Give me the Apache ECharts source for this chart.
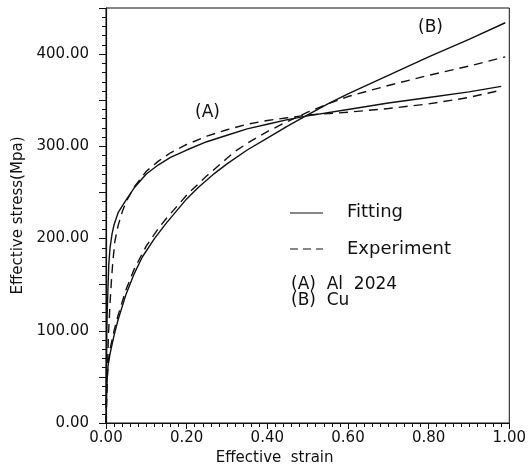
<!DOCTYPE html>
<html>
<head>
<meta charset="utf-8">
<script src="https://cdn.jsdelivr.net/npm/echarts@6/dist/echarts.min.js"></script>
<style>
  html, body { margin: 0; padding: 0; background: #fff; }
  #chart { width: 529px; height: 472px; }
</style>
</head>
<body>
<div id="chart"></div>
<script>
// Al 2024 (A)
var strainAFit = [0, 0.001, 0.002, 0.003, 0.005, 0.007, 0.01, 0.015, 0.02, 0.03, 0.05, 0.07, 0.1, 0.13, 0.16, 0.2, 0.25, 0.3, 0.35, 0.4, 0.45, 0.5, 0.6, 0.7, 0.8, 0.9, 0.98];
var stressAFit = [20, 60, 100, 120, 148, 172, 190, 205, 215, 228, 242, 255, 270, 280, 288, 296, 305, 312, 319, 324, 329, 333, 340, 347, 353, 359, 365];
var strainAExp = [0, 0.003, 0.006, 0.01, 0.014, 0.017, 0.022, 0.03, 0.041, 0.05, 0.07, 0.1, 0.13, 0.16, 0.2, 0.25, 0.3, 0.35, 0.4, 0.45, 0.5, 0.6, 0.7, 0.8, 0.9, 0.97];
var stressAExp = [0, 50, 95, 130, 158, 175, 197, 214, 230, 240, 256, 273, 284, 293, 302, 311, 318, 324, 328, 331, 334, 337, 341, 346, 353, 360];
// Cu (B)
var strainBFit = [0, 0.002, 0.005, 0.01, 0.014, 0.02, 0.03, 0.05, 0.07, 0.09, 0.12, 0.15, 0.2, 0.23, 0.27, 0.3, 0.35, 0.4, 0.45, 0.5, 0.55, 0.6, 0.65, 0.7, 0.8, 0.9, 0.99];
var stressBFit = [0, 40, 62, 75, 83, 95, 112, 140, 162, 180, 200, 217, 243, 256, 271, 281, 296, 309, 322, 334, 346, 357, 367, 377, 397, 416, 434];
var strainBExp = [0, 0.002, 0.005, 0.01, 0.02, 0.03, 0.05, 0.07, 0.1, 0.13, 0.15, 0.18, 0.204, 0.25, 0.3, 0.318, 0.36, 0.4, 0.45, 0.5, 0.55, 0.6, 0.7, 0.8, 0.9, 0.99];
var stressBExp = [0, 40, 64, 80, 100, 117, 145, 167, 192, 211, 222, 237, 249, 268, 287, 294, 306, 316, 327, 337, 346, 354, 366, 377, 387, 397];

var xTicks = [0, 0.2, 0.4, 0.6, 0.8, 1.0];
var yLabels = [0, 100, 200, 300, 400];

function pairs(xs, ys) {
  return xs.map(function (x, i) { return [x, ys[i]]; });
}

var font = 'DejaVu Sans';
var ink = '#111';

var chart = echarts.init(document.getElementById('chart'));

function curve(name, xs, ys, dashed) {
  return {
    name: name,
    type: 'line',
    data: pairs(xs, ys),
    showSymbol: false,
    smooth: false,
    lineStyle: { color: ink, width: 1.4, type: dashed ? [9, 6] : 'solid' },
    animation: false
  };
}

var option = {
  animation: false,
  grid: {
    left: 106, right: 11, top: 8, bottom: 49,
    show: true, borderColor: ink, borderWidth: 1
  },
  xAxis: {
    type: 'value',
    min: xTicks[0],
    max: xTicks[xTicks.length - 1],
    interval: 0.2,
    name: 'Effective  strain',
    nameLocation: 'middle',
    nameGap: 25,
    nameTextStyle: { fontFamily: font, fontSize: 15, color: ink, padding: [0, 66, 0, 0] },
    axisLine: { lineStyle: { color: ink, width: 1.2 } },
    axisTick: { inside: false, length: 6, lineStyle: { color: ink } },
    minorTick: { show: true, splitNumber: 10, length: 4, lineStyle: { color: ink } },
    splitLine: { show: false },
    axisLabel: {
      fontFamily: font, fontSize: 15, color: ink, margin: 8,
      formatter: function (v) { return v.toFixed(2); }
    }
  },
  yAxis: {
    type: 'value',
    min: 0,
    max: 450,
    interval: 50,
    name: 'Effective stress(Mpa)',
    nameLocation: 'middle',
    nameGap: 80,
    nameTextStyle: { fontFamily: font, fontSize: 15, color: ink },
    axisLine: { lineStyle: { color: ink, width: 1.2 } },
    axisTick: { inside: false, length: 7, lineStyle: { color: ink } },
    minorTick: { show: true, splitNumber: 5, length: 4, lineStyle: { color: ink } },
    splitLine: { show: false },
    axisLabel: {
      fontFamily: font, fontSize: 15, color: ink, margin: 17,
      formatter: function (v) { return yLabels.indexOf(v) >= 0 ? v.toFixed(2) : ''; }
    }
  },
  series: [
    curve('A fitting', strainAFit, stressAFit, false),
    curve('A experiment', strainAExp, stressAExp, true),
    curve('B fitting', strainBFit, stressBFit, false),
    curve('B experiment', strainBExp, stressBExp, true)
  ],
  graphic: [
    { type: 'text', left: 195, top: 104, style: { text: '(A)', font: '17px ' + font, fill: ink } },
    { type: 'text', left: 418, top: 19, style: { text: '(B)', font: '17px ' + font, fill: ink } },
    { type: 'line', shape: { x1: 290, y1: 213, x2: 323, y2: 213 }, style: { stroke: ink, lineWidth: 1.2 } },
    { type: 'line', shape: { x1: 290, y1: 249, x2: 323, y2: 249 }, style: { stroke: ink, lineWidth: 1.2, lineDash: [8, 5] } },
    { type: 'text', left: 347, top: 203, style: { text: 'Fitting', font: '18px ' + font, fill: ink } },
    { type: 'text', left: 347, top: 240, style: { text: 'Experiment', font: '18px ' + font, fill: ink } },
    { type: 'text', left: 291, top: 276, style: { text: '(A)  Al  2024', font: '17px ' + font, fill: ink } },
    { type: 'text', left: 291, top: 292, style: { text: '(B)  Cu', font: '17px ' + font, fill: ink } }
  ]
};

chart.setOption(option);
</script>
</body>
</html>
